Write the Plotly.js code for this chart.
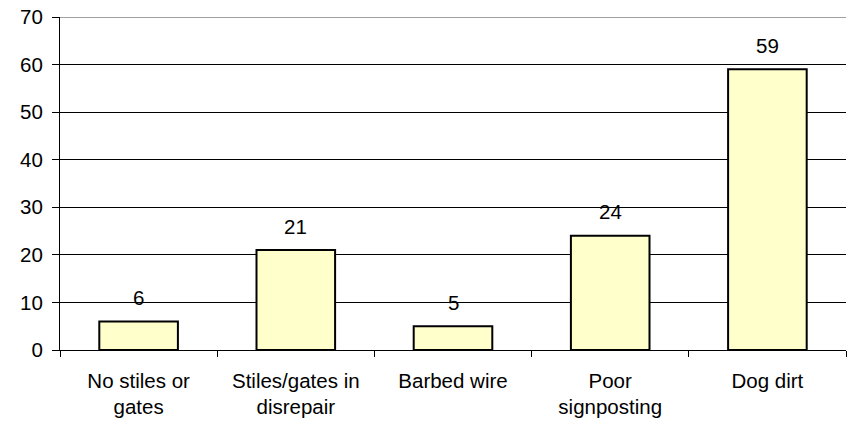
<!DOCTYPE html>
<html>
<head>
<meta charset="utf-8">
<script src="https://cdn.plot.ly/plotly-3.0.1.min.js"></script>
<style>html,body{margin:0;padding:0;background:#fff;}#chart{width:848px;height:424px;}</style>
</head>
<body>
<div id="chart"></div>
<script>
const categories = ["No stiles or<br>gates", "Stiles/gates in<br>disrepair", "Barbed wire", "Poor<br>signposting", "Dog dirt"];
const values = [6, 21, 5, 24, 59];
const yTicks = [0, 10, 20, 30, 40, 50, 60, 70];

const FONT = 'Liberation Sans, Arial, sans-serif';
const FS = 20.5;

const trace = {
  type: 'bar',
  x: categories,
  y: values,
  width: 0.5,
  marker: {color: '#FFFFCC', line: {color: '#000000', width: 2}},
  hoverinfo: 'none'
};

const annotations = categories.map((c, i) => ({
  x: c, y: values[i], xref: 'x', yref: 'y',
  text: String(values[i]), showarrow: false,
  yanchor: 'middle', yshift: 24,
  font: {family: FONT, size: FS, color: '#000'}
}));

const yMax = yTicks[yTicks.length - 1];

const layout = {
  width: 848, height: 424,
  margin: {l: 60, r: 2, t: 17, b: 74},
  paper_bgcolor: '#fff', plot_bgcolor: '#fff',
  showlegend: false,
  font: {family: FONT, size: FS, color: '#000'},
  xaxis: {
    type: 'category',
    showline: true, linecolor: '#000', linewidth: 1,
    ticks: 'outside', tickson: 'boundaries', ticklen: 6, tickcolor: '#000',
    ticklabelstandoff: 12,
    showgrid: false, zeroline: false,
    tickfont: {size: FS}
  },
  yaxis: {
    range: [0, yMax],
    tickvals: yTicks,
    showline: true, linecolor: '#000', linewidth: 1,
    ticks: 'outside', ticklen: 7, tickcolor: '#000',
    ticklabelstandoff: 5,
    showgrid: true, gridcolor: '#000', gridwidth: 1,
    zeroline: false,
    tickfont: {size: FS}
  },
  shapes: [{
    type: 'line', xref: 'paper', yref: 'y', x0: 0, x1: 1, y0: yMax, y1: yMax,
    line: {color: '#808080', width: 1.5}
  }],
  annotations: annotations
};

Plotly.newPlot('chart', [trace], layout, {staticPlot: true, displayModeBar: false});
</script>
</body>
</html>
